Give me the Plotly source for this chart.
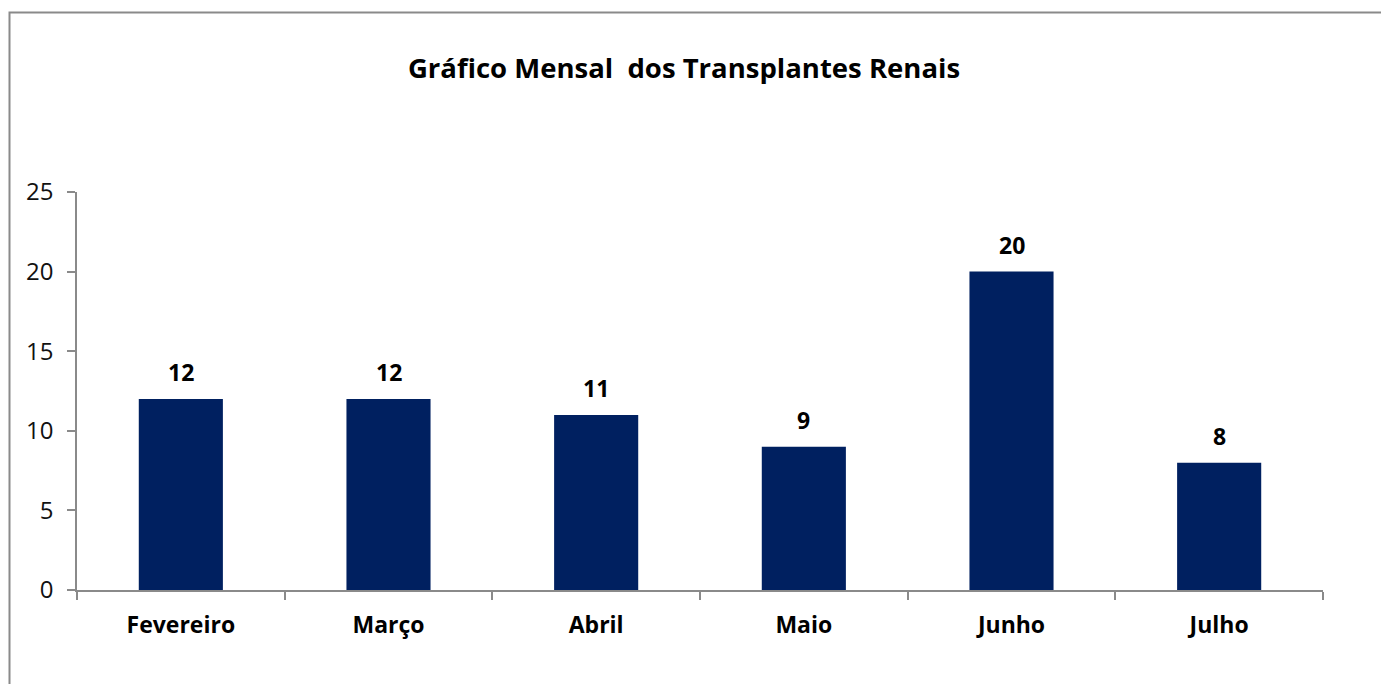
import plotly.graph_objects as go

months = ["Fevereiro", "Março", "Abril", "Maio", "Junho", "Julho"]
transplantes = [12, 12, 11, 9, 20, 8]
y_ticks = [0, 5, 10, 15, 20, 25]

# page body has an 8px margin; compensate so the screen positions match
OFF = 8
W, H = 1389 - OFF, 684 - OFF
L = 77 - OFF
R = W - (1323 - OFF)
T = 192 - OFF
B = H - (590 - OFF)
pw, ph = W - L - R, H - T - B

def px_x(p):
    return (p - OFF - L) / pw

def px_y(p):
    return (H - B - (p - OFF)) / ph

font_fam = "Open Sans, DejaVu Sans, sans-serif"

fig = go.Figure()
fig.add_trace(go.Bar(
    x=months, y=transplantes,
    marker=dict(color="#002060", line=dict(width=0)),
    width=0.405,
    hoverinfo="skip",
))

for m, v in zip(months, transplantes):
    fig.add_annotation(x=m, y=v, text=f"<b>{v}</b>", showarrow=False,
                       yanchor="bottom", yshift=9,
                       font=dict(family=font_fam, size=23, color="#000000"))

fig.add_shape(type="rect", xref="paper", yref="paper",
              x0=px_x(9.5), x1=px_x(1450), y0=px_y(12.5), y1=px_y(760),
              line=dict(color="#8a8a8a", width=2), layer="below")

fig.update_layout(
    width=W, height=H,
    margin=dict(l=L, r=R, t=T, b=B, pad=0),
    paper_bgcolor="white", plot_bgcolor="white",
    showlegend=False,
    title=dict(text="<b>Gráfico Mensal  dos Transplantes Renais</b>",
               x=(684 - OFF) / W, xref="container", xanchor="center",
               y=1 - (68 - OFF) / H, yref="container", yanchor="middle",
               font=dict(family=font_fam, size=27.5, color="#000000")),
    xaxis=dict(
        showline=True, linecolor="#8a8a8a", linewidth=1.5,
        ticks="outside", tickson="boundaries", ticklen=8, tickcolor="#8a8a8a",
        tickwidth=1.5,
        tickfont=dict(family=font_fam, size=23, color="#000000"),
        showgrid=False, zeroline=False,
        ticklabelstandoff=14,
    ),
    yaxis=dict(
        range=[0, 25], tickvals=y_ticks,
        showline=True, linecolor="#8a8a8a", linewidth=1.5,
        ticks="outside", ticklen=8, tickcolor="#8a8a8a", tickwidth=1.5,
        tickfont=dict(family=font_fam, size=24, color="#111111"),
        showgrid=False, zeroline=False,
        ticklabelstandoff=9,
    ),
)
fig.update_xaxes(tickprefix="<b>", ticksuffix="</b>")

fig.write_html("out.html")
